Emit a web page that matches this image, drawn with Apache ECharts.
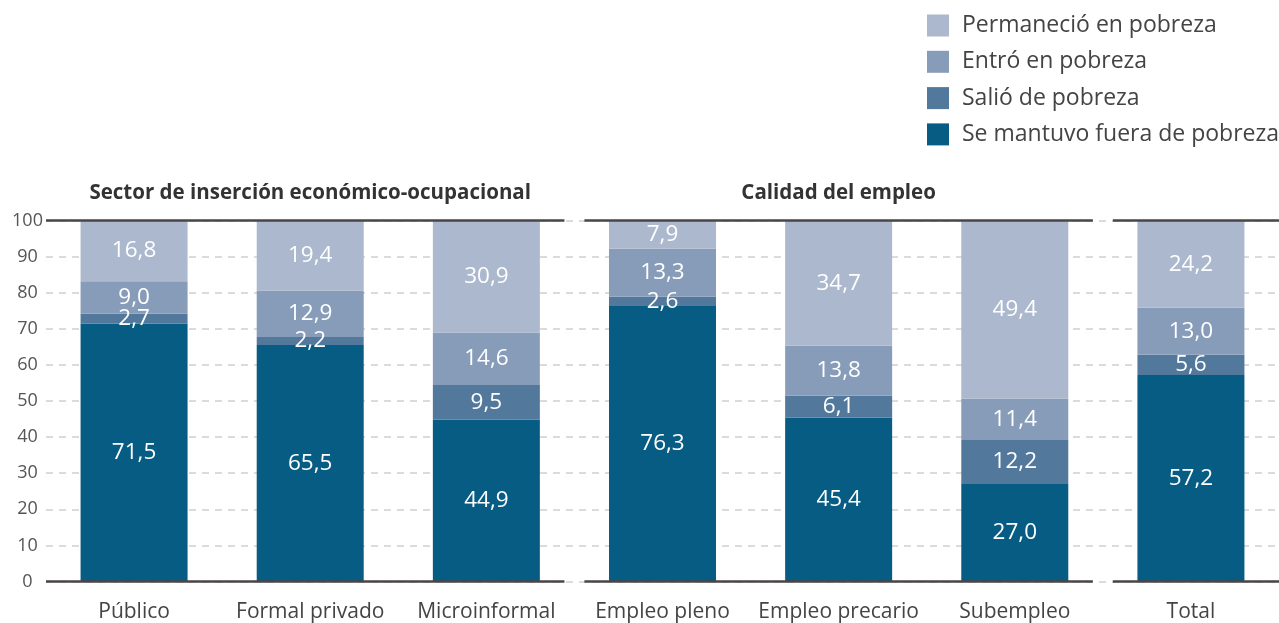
<!DOCTYPE html>
<html>
<head>
<meta charset="utf-8">
<script src="https://cdn.jsdelivr.net/npm/echarts@6/dist/echarts.min.js"></script>
<style>
  html, body { margin: 0; padding: 0; background: #fff; }
  #chart { width: 1279px; height: 623px; }
</style>
</head>
<body>
<div id="chart"></div>
<script>
// Categories along the x axis
const categories = ['Público', 'Formal privado', 'Microinformal', 'Empleo pleno', 'Empleo precario', 'Subempleo', 'Total'];

// Series values (percent), stacked from the bottom up
const seMantuvo   = [71.5, 65.5, 44.9, 76.3, 45.4, 27.0, 57.2];
const salio       = [2.7, 2.2, 9.5, 2.6, 6.1, 12.2, 5.6];
const entro       = [9.0, 12.9, 14.6, 13.3, 13.8, 11.4, 13.0];
const permanecio  = [16.8, 19.4, 30.9, 7.9, 34.7, 49.4, 24.2];

const seriesNames = ['Se mantuvo fuera de pobreza', 'Salió de pobreza', 'Entró en pobreza', 'Permaneció en pobreza'];
const legendOrder = ['Permaneció en pobreza', 'Entró en pobreza', 'Salió de pobreza', 'Se mantuvo fuera de pobreza'];

// Column groups: first and last category index, and heading
const groupStart = [0, 3, 6];
const groupEnd   = [2, 5, 6];
const groupTitle = ['Sector de inserción económico-ocupacional', 'Calidad del empleo', ''];

// Y axis ticks
const yMin = 0, yMax = 100, yStep = 10;

const colors = ['#065c83', '#52799b', '#879cb8', '#acb8cd'];
const FONT = '"Open Sans", "Noto Sans", sans-serif';

const fmt = v => v.toFixed(1).replace('.', ',');

const barSeries = [seMantuvo, salio, entro, permanecio].map((vals, i) => ({
  name: seriesNames[i],
  type: 'bar',
  stack: 'total',
  barWidth: 107,
  data: vals,
  itemStyle: { color: colors[i] },
  label: {
    show: true,
    position: 'inside',
    color: '#fff',
    fontSize: 22.5,
    fontFamily: FONT,
    formatter: p => fmt(p.value)
  },
  emphasis: { disabled: true },
  z: 2
}));

// Group frame: solid lines at the top and bottom of each group, plus heading
const groupSeries = {
  type: 'custom',
  data: groupStart.map((s, i) => [s, groupEnd[i]]),
  silent: true,
  z: 5,
  renderItem: (params, api) => {
    const i = params.dataIndex;
    const band = api.size([1, 0])[0];
    const gap = 10;
    const s = groupStart[i], e = groupEnd[i];
    const x0 = api.coord([s, yMin])[0] - band / 2 + (s === 0 ? 0 : gap);
    const x1 = api.coord([e, yMin])[0] + band / 2 - (e === categories.length - 1 ? 0 : gap);
    const yb = api.coord([s, yMin])[1];
    const yt = api.coord([s, yMax])[1];
    const lineStyle = { stroke: '#4a4547', lineWidth: 2.5 };
    const children = [
      { type: 'line', shape: { x1: x0, y1: yt, x2: x1, y2: yt }, style: lineStyle },
      { type: 'line', shape: { x1: x0, y1: yb, x2: x1, y2: yb }, style: lineStyle }
    ];
    if (groupTitle[i]) {
      const cx = (api.coord([s, yMin])[0] + api.coord([e, yMin])[0]) / 2;
      children.push({
        type: 'text',
        x: cx, y: yt - 27,
        style: {
          text: groupTitle[i],
          fill: '#333',
          font: 'bold 20.5px ' + FONT,
          textAlign: 'center',
          textVerticalAlign: 'middle'
        }
      });
    }
    return { type: 'group', children };
  }
};

const chart = echarts.init(document.getElementById('chart'), null, { renderer: 'canvas' });
chart.setOption({
  animation: false,
  backgroundColor: '#fff',
  legend: {
    data: legendOrder,
    orient: 'vertical',
    left: 927,
    top: 14,
    padding: 0,
    itemWidth: 22,
    itemHeight: 22,
    itemGap: 13.3,
    icon: 'rect',
    textStyle: { fontSize: 23, color: '#444', fontFamily: FONT, padding: [0, 0, 0, 8] },
    selectedMode: false
  },
  grid: { left: 46, top: 220.5, width: 1245, bottom: 41.5, containLabel: false },
  xAxis: {
    type: 'category',
    data: categories,
    axisLine: { show: false },
    axisTick: { show: false },
    axisLabel: { interval: 0, fontSize: 21, color: '#444', fontFamily: FONT, margin: 20 }
  },
  yAxis: {
    type: 'value',
    min: yMin, max: yMax, interval: yStep,
    axisLine: { show: false },
    axisTick: { show: false },
    axisLabel: { fontSize: 18, color: '#555', fontFamily: FONT, margin: 18.5, align: 'center' },
    splitLine: { lineStyle: { color: '#d0d0d0', width: 1.5, type: [7, 6] } }
  },
  series: [...barSeries, groupSeries]
});
</script>
</body>
</html>
